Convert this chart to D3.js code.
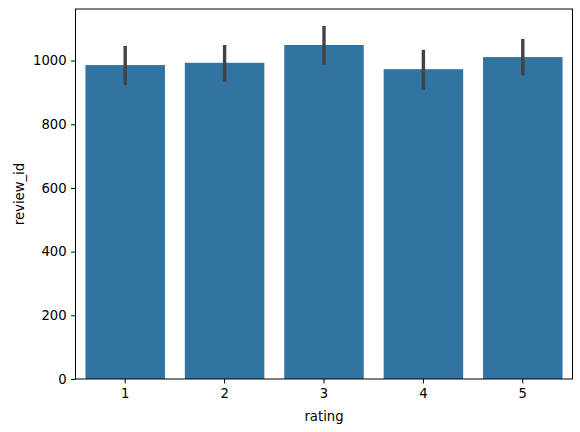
<!DOCTYPE html>
<html>
<head>
<meta charset="utf-8">
<script src="https://cdn.jsdelivr.net/npm/d3@7"></script>
<style>
  body { margin: 0; background: #fff; }
  text { font-family: "DejaVu Sans", sans-serif; fill: #000; }
</style>
</head>
<body>
<svg id="chart" width="580" height="432"></svg>
<script>
// data
var ratings = ["1", "2", "3", "4", "5"];
var means = [986, 993, 1049, 973, 1011];
var ciLow = [923, 934, 987, 908, 953];
var ciHigh = [1046, 1049, 1109, 1034, 1068];
var yTicks = [0, 200, 400, 600, 800, 1000];

var margin = { left: 75.5, right: 7.5, top: 9, bottom: 53 };
var width = 580, height = 432;
var fontSize = "13.2px";

var svg = d3.select("#chart");

var x = d3.scaleBand()
    .domain(ratings)
    .range([margin.left, width - margin.right])
    .paddingInner(0.2)
    .paddingOuter(0.1);

var y = d3.scaleLinear()
    .domain([0, 1162])
    .range([height - margin.bottom, margin.top]);

// bars
svg.selectAll(".bar")
    .data(means)
    .enter().append("rect")
    .attr("class", "bar")
    .attr("x", function (d, i) { return x(ratings[i]); })
    .attr("width", x.bandwidth())
    .attr("y", function (d) { return y(d); })
    .attr("height", function (d) { return y(0) - y(d); })
    .attr("fill", "#3274a1");

// error bars
svg.selectAll(".err")
    .data(ciLow)
    .enter().append("line")
    .attr("class", "err")
    .attr("x1", function (d, i) { return x(ratings[i]) + x.bandwidth() / 2; })
    .attr("x2", function (d, i) { return x(ratings[i]) + x.bandwidth() / 2; })
    .attr("y1", function (d) { return y(d); })
    .attr("y2", function (d, i) { return y(ciHigh[i]); })
    .attr("stroke", "#424242")
    .attr("stroke-width", 3.4);

// axes
var xAxis = svg.append("g")
    .attr("transform", "translate(0," + y(0) + ")")
    .call(d3.axisBottom(x).tickSize(4.4).tickPadding(5));

var yAxis = svg.append("g")
    .attr("transform", "translate(" + margin.left + ",0)")
    .call(d3.axisLeft(y).tickValues(yTicks).tickFormat(d3.format("d")).tickSize(4.4).tickPadding(4.5));

[xAxis, yAxis].forEach(function (a) {
    a.select(".domain").remove();
    a.selectAll("line").attr("stroke", "#000").attr("stroke-width", 1);
    a.selectAll("text").style("font-size", fontSize).attr("fill", "#000");
});

// frame
svg.append("rect")
    .attr("x", margin.left)
    .attr("y", margin.top)
    .attr("width", width - margin.left - margin.right)
    .attr("height", height - margin.top - margin.bottom)
    .attr("fill", "none")
    .attr("stroke", "#000")
    .attr("stroke-width", 1);

// axis labels
svg.append("text")
    .attr("x", (margin.left + width - margin.right) / 2)
    .attr("y", 421)
    .style("text-anchor", "middle")
    .style("font-size", fontSize)
    .text("rating");

svg.append("text")
    .attr("transform", "translate(24," + (margin.top + (height - margin.bottom)) / 2 + ") rotate(-90)")
    .style("text-anchor", "middle")
    .style("font-size", fontSize)
    .text("review_id");
</script>
</body>
</html>
